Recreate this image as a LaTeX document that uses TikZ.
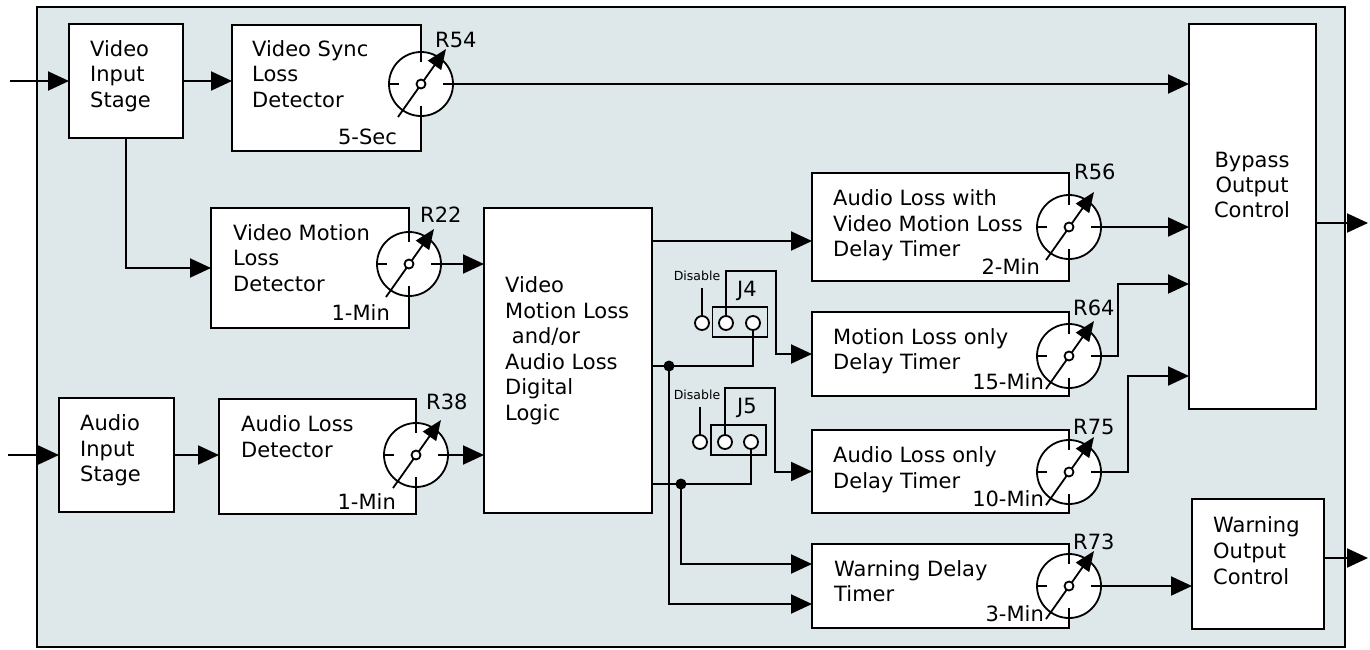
\documentclass[tikz,border=0pt]{standalone}
\usepackage{fontspec}
\setmainfont{DejaVu Sans}
\usetikzlibrary{arrows.meta}
\definecolor{bgc}{RGB}{222,231,234}
\newcommand\fsmain{\fontsize{21}{25}\selectfont}
\newcommand\fssmall{\fontsize{12.5}{14}\selectfont}
\begin{document}
\begin{tikzpicture}[x=1pt,y=-1pt,
 box/.style={draw, fill=white, line width=2.2pt, anchor=north west, outer sep=0pt, inner sep=0pt},
 lbl/.style={inner sep=0pt, font=\fsmain, anchor=base west},
 lble/.style={inner sep=0pt, font=\fsmain, anchor=base east},
 lblc/.style={inner sep=0pt, font=\fsmain, anchor=base},
 conn/.style={line width=2pt, -{Triangle[length=21pt,width=19pt]}},
 wire/.style={line width=2pt},
 potline/.style={line width=1.8pt},
 pinc/.style={circle, draw, fill=white, line width=1.8pt, minimum size=14pt, inner sep=0pt},
 jmp/.style={draw, line width=1.8pt, minimum width=55pt, minimum height=30pt, inner sep=0pt},
 jdot/.style={circle, fill=black, minimum size=11pt, inner sep=0pt},
 small/.style={inner sep=0pt, font=\fssmall, anchor=base},
 pot/.pic={
   \draw[potline, fill=white] (0,0) circle[radius=32];
   \draw[potline] (0,-32) -- (0,-22) (0,32) -- (0,22) (-32,0) -- (-22,0) (32,0) -- (22,0);
   \draw[potline, -{Triangle[length=20pt,width=16pt]}] (-23,33) -- (25,-35);
   \draw[potline, fill=white] (0,0) circle[radius=4.5];
   \coordinate (-e) at (32,0);
 }]
\useasboundingbox (0,0) rectangle (1370,649);
\node[draw, fill=bgc, line width=2pt, anchor=north west, outer sep=0pt, inner sep=0pt,
      minimum width=1308pt, minimum height=640pt] (frame) at (37,7) {};

% boxes
\node[box, minimum width=114pt, minimum height=114pt] (vin) at (69,24) {};
\node[box, minimum width=189pt, minimum height=126pt] (vs) at (232,25) {};
\node[box, minimum width=127pt, minimum height=385pt] (byp) at (1189,24) {};
\node[box, minimum width=198pt, minimum height=120pt] (vml) at (211,208) {};
\node[box, minimum width=168pt, minimum height=305pt] (logic) at (484,208) {};
\node[box, minimum width=115pt, minimum height=114pt] (ain) at (59,398) {};
\node[box, minimum width=197pt, minimum height=115pt] (ald) at (219,399) {};
\node[box, minimum width=257pt, minimum height=108pt] (alvml) at (812,173) {};
\node[box, minimum width=257pt, minimum height=84pt] (mlo) at (812,312) {};
\node[box, minimum width=257pt, minimum height=83pt] (alo) at (812,430) {};
\node[box, minimum width=257pt, minimum height=84pt] (wdt) at (812,544) {};
\node[box, minimum width=132pt, minimum height=130pt] (wout) at (1192,499) {};

% texts
\node[lbl] (t1) at (90,56) {Video};
\node[lbl] (t2) at (90,81) {Input};
\node[lbl] (t3) at (90,107) {Stage};
\node[lbl] (t4) at (252,56) {Video Sync};
\node[lbl] (t5) at (252,81) {Loss};
\node[lbl] (t6) at (252,107) {Detector};
\node[lble] (t7) at (397,144) {5-Sec};
\node[lbl] (t8) at (233,240) {Video Motion};
\node[lbl] (t9) at (233,265) {Loss};
\node[lbl] (t10) at (233,291) {Detector};
\node[lble] (t11) at (390,320) {1-Min};
\node[lbl] (t12) at (505,292) {Video};
\node[lbl] (t13) at (505,318) {Motion Loss};
\node[lbl] (t14) at (505,343) {\ and/or};
\node[lbl] (t15) at (505,369) {Audio Loss};
\node[lbl] (t16) at (505,394) {Digital};
\node[lbl] (t17) at (505,420) {Logic};
\node[lbl] (t18) at (80,430) {Audio};
\node[lbl] (t19) at (80,456) {Input};
\node[lbl] (t20) at (80,481) {Stage};
\node[lbl] (t21) at (241,431) {Audio Loss};
\node[lbl] (t22) at (241,457) {Detector};
\node[lble] (t23) at (396,509) {1-Min};
\node[lbl] (t24) at (833,205) {Audio Loss with};
\node[lbl] (t25) at (833,231) {Video Motion Loss};
\node[lbl] (t26) at (833,256) {Delay Timer};
\node[lble] (t27) at (1040,274) {2-Min};
\node[lbl] (t28) at (833,344) {Motion Loss only};
\node[lbl] (t29) at (833,369) {Delay Timer};
\node[lble] (t30) at (1044,389) {15-Min};
\node[lbl] (t31) at (833,462) {Audio Loss only};
\node[lbl] (t32) at (833,488) {Delay Timer};
\node[lble] (t33) at (1044,506) {10-Min};
\node[lbl] (t34) at (834,576) {Warning Delay};
\node[lbl] (t35) at (834,601) {Timer};
\node[lble] (t36) at (1044,621) {3-Min};
\node[lblc] (t37) at (1252,167) {Bypass};
\node[lblc] (t38) at (1252,192) {Output};
\node[lblc] (t39) at (1252,217) {Control};
\node[lbl] (t40) at (1213,532) {Warning};
\node[lbl] (t41) at (1213,558) {Output};
\node[lbl] (t42) at (1213,584) {Control};

% potentiometers
\pic (p54) at (421,84) {pot};
\pic (p22) at (409,264) {pot};
\pic (p38) at (416,455) {pot};
\pic (p56) at (1069,227) {pot};
\pic (p64) at (1069,356) {pot};
\pic (p75) at (1069,472) {pot};
\pic (p73) at (1069,586) {pot};
\node[lbl] (r54) at (435,47) {R54};
\node[lbl] (r22) at (420,222) {R22};
\node[lbl] (r38) at (426,409) {R38};
\node[lbl] (r56) at (1074,179) {R56};
\node[lbl] (r64) at (1073,315) {R64};
\node[lbl] (r75) at (1073,434) {R75};
\node[lbl] (r73) at (1073,549) {R73};

% external terminals
\coordinate (vidin) at (10,81);
\coordinate (audin) at (8,455);
\coordinate (bypout) at (1368,223);
\coordinate (warnout) at (1368,558);

% connectors
\draw[conn] (vidin) -- (vin.west);
\draw[conn] (audin) -- (ain.west);
\draw[conn] (vin.east |- 0,81) -- (vs.west |- 0,81);
\draw[conn] (p54-e) -- (p54-e -| byp.west);
\draw[conn] (vin.south) |- (vml.west);
\draw[conn] (p22-e) -- (p22-e -| logic.west);
\draw[conn] (ain.east |- 0,455) -- (ald.west |- 0,455);
\draw[conn] (p38-e) -- (p38-e -| logic.west);
\draw[conn] (logic.east |- 0,241) -- (alvml.west |- 0,241);
\draw[conn] (p56-e) -- (p56-e -| byp.west);
\draw[conn] (p64-e) -- ++(17,0) |- (byp.west |- 0,284);
\draw[conn] (p75-e) -- ++(27,0) |- (byp.west |- 0,376);
\draw[conn] (p73-e) -- (p73-e -| wout.west);
\draw[conn] (byp.east |- bypout) -- (bypout);
\draw[conn] (wout.east |- warnout) -- (warnout);

% jumper J4
\node[jmp] (j4) at (740,322) {};
\node[pinc] (j4d) at (702,323) {};
\node[pinc] (j4m) at (726,323) {};
\node[pinc] (j4r) at (753,323) {};
\node[small] (j4dis) at (697,280) {Disable};
\node[lbl] (j4l) at (737,296) {J4};
\coordinate (j4top) at (702,288);
\draw[wire] (j4d.north) -- (j4top);
\draw[conn] (j4m.north) |- (776,271) |- (mlo.west);
\draw[wire] (j4r.south) |- (logic.east |- 0,366);
\node[jdot] (d1) at (669,366) {};
\draw[conn] (d1.center) |- (wdt.west |- 0,604);

% jumper J5
\node[jmp] (j5) at (738.5,440) {};
\node[pinc] (j5d) at (700,442) {};
\node[pinc] (j5m) at (725,442) {};
\node[pinc] (j5r) at (751,442) {};
\node[small] (j5dis) at (697,399) {Disable};
\node[lbl] (j5l) at (737,413) {J5};
\coordinate (j5top) at (700,407);
\draw[wire] (j5d.north) -- (j5top);
\draw[conn] (j5m.north) |- (775,388) |- (alo.west);
\draw[wire] (j5r.south) |- (logic.east |- 0,484);
\node[jdot] (d2) at (681,484) {};
\draw[conn] (d2.center) |- (wdt.west |- 0,564);
\end{tikzpicture}
\end{document}
